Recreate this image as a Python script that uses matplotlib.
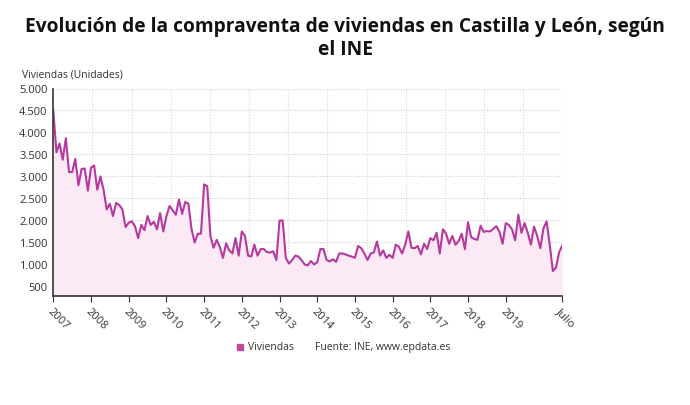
import numpy as np
import matplotlib
matplotlib.use("Agg")
import matplotlib.pyplot as plt
from matplotlib.ticker import FuncFormatter

plt.rcParams['font.family'] = ['Open Sans', 'DejaVu Sans']

# monthly sales, Jan 2007 .. Jul 2020
y2007 = [4500, 3550, 3750, 3380, 3870, 3100, 3100, 3400, 2800, 3170, 3180, 2680]
y2008 = [3200, 3250, 2700, 3000, 2700, 2250, 2380, 2100, 2400, 2350, 2250, 1850]
y2009 = [1950, 1980, 1870, 1600, 1900, 1780, 2100, 1900, 1970, 1800, 2170, 1750]
y2010 = [2100, 2330, 2230, 2130, 2480, 2150, 2420, 2380, 1800, 1500, 1700, 1700]
y2011 = [2820, 2780, 1650, 1380, 1560, 1400, 1150, 1480, 1320, 1250, 1600, 1200]
y2012 = [1750, 1650, 1200, 1180, 1450, 1200, 1350, 1350, 1280, 1270, 1300, 1100]
y2013 = [2000, 2000, 1150, 1020, 1100, 1200, 1180, 1100, 1000, 980, 1080, 1000]
y2014 = [1050, 1350, 1350, 1100, 1070, 1120, 1060, 1250, 1250, 1230, 1200, 1180]
y2015 = [1150, 1420, 1370, 1250, 1100, 1250, 1270, 1520, 1200, 1320, 1150, 1220]
y2016 = [1150, 1450, 1400, 1250, 1450, 1750, 1380, 1370, 1420, 1230, 1470, 1350]
y2017 = [1600, 1550, 1720, 1250, 1800, 1700, 1470, 1650, 1450, 1530, 1700, 1350]
y2018 = [1960, 1620, 1580, 1560, 1880, 1740, 1760, 1750, 1810, 1870, 1740, 1470]
y2019 = [1940, 1900, 1800, 1550, 2130, 1720, 1940, 1720, 1450, 1860, 1650, 1370]
y2020 = [1820, 1980, 1450, 850, 930, 1280, 1430]

values = (y2007 + y2008 + y2009 + y2010 + y2011 + y2012 + y2013 + y2014
          + y2015 + y2016 + y2017 + y2018 + y2019 + y2020)
tick_labels = [str(y) for y in range(2007, 2020)] + ['Julio']

line_color = '#b5399e'
fill_color = '#fbe9f6'
text_color = '#333333'

x = np.arange(len(values))
n = len(values) - 1

fig = plt.figure(figsize=(6.9, 4.06), dpi=100)
ax = fig.add_axes([53.3 / 690, 1 - 296.7 / 406, 509 / 690, 207.2 / 406])

ax.fill_between(x, values, 0, color=fill_color, lw=0)
ax.plot(x, values, color=line_color, lw=1.5)

ax.set_xlim(0, n)
ax.set_ylim(290, 5000)

ax.set_yticks(np.arange(500, 5001, 500))
ax.yaxis.set_major_formatter(FuncFormatter(lambda v, p: f'{int(v):,}'.replace(',', '.')))
tick_pos = list(range(0, 13 * 12, 12)) + [n]
ax.set_xticks(tick_pos)
ax.set_xticklabels(tick_labels, rotation=-45, ha='left', va='top',
                   rotation_mode='anchor', fontsize=8, color=text_color)
ax.tick_params(axis='y', length=0, labelsize=8, labelcolor=text_color, pad=4)
ax.tick_params(axis='x', length=4, color='#333333', pad=3)

# grid: horizontal at y ticks, vertical dividing plot in 13 parts
for v in np.arange(500, 5001, 500):
    ax.axhline(v, color='#d0d0d0', lw=0.8, ls=(0, (1, 1.5)), zorder=0)
for k in range(1, 14):
    ax.axvline(k * n / 13, color='#d8d8d8', lw=0.8, ls=(0, (1, 1.5)), zorder=0)

for s in ['top', 'right']:
    ax.spines[s].set_visible(False)
ax.spines['bottom'].set_color('#333333')
ax.spines['bottom'].set_linewidth(1.2)
ax.spines['left'].set_color('#333333')
ax.spines['left'].set_linestyle((0, (1, 1)))
ax.spines['left'].set_linewidth(1.2)

fig.text(0.5, 1 - 27 / 406, 'Evolución de la compraventa de viviendas en Castilla y León, según',
         ha='center', va='center', fontsize=13.8, fontweight='bold', color='#111111')
fig.text(0.5, 1 - 50 / 406, 'el INE', ha='center', va='center',
         fontsize=13.8, fontweight='bold', color='#111111')
fig.text(22 / 690, 1 - 75 / 406, 'Viviendas (Unidades)', ha='left', va='center',
         fontsize=7.5, color=text_color)

fig.patches.append(plt.Rectangle((237.5 / 690, 1 - 351 / 406), 6 / 690, 6 / 406,
                                 transform=fig.transFigure, color='#c2479f'))
fig.text(248 / 690, 1 - 348 / 406, 'Viviendas', ha='left', va='center',
         fontsize=7.5, color=text_color)
fig.text(315 / 690, 1 - 348 / 406, 'Fuente: INE, www.epdata.es', ha='left', va='center',
         fontsize=7.5, color=text_color)

fig.savefig('out.png', dpi=100)
